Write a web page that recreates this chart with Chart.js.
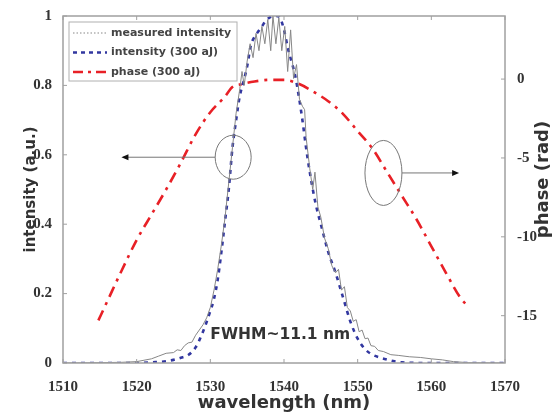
<!DOCTYPE html>
<html>
<head>
<meta charset="utf-8">
<script src="https://cdn.jsdelivr.net/npm/chart.js@4/dist/chart.umd.min.js"></script>
<style>
  html, body { margin: 0; padding: 0; background: #fff; }
  #wrap { width: 552px; height: 414px; }
</style>
</head>
<body>
<div id="wrap"><canvas id="chart" width="552" height="414"></canvas></div>
<script>
// axis ticks
const wavelengthTicks = [1510, 1520, 1530, 1540, 1550, 1560, 1570]
const intensityTicks = [0, 0.2, 0.4, 0.6, 0.8, 1]
const phaseTicks = [-15, -10, -5, 0]

// measured spectrum (gray, with ripple)
const measuredWl = [1510, 1515, 1518, 1520, 1522, 1523, 1524, 1525, 1525.5, 1526, 1526.5, 1527, 1527.5, 1528, 1528.5,
  1529, 1529.5, 1530, 1530.5, 1531, 1531.5, 1532, 1532.5, 1533, 1533.5, 1534, 1534.3, 1534.6, 1535, 1535.4, 1535.8,
  1536.2, 1536.6, 1537, 1537.4, 1537.8, 1538.2, 1538.5, 1538.9, 1539.3, 1539.7, 1540.1, 1540.5, 1540.9, 1541.3, 1541.7,
  1542.1, 1542.5, 1542.8, 1543, 1543.5, 1543.9, 1544.2, 1544.6, 1545, 1545.5, 1546, 1546.5, 1547, 1547.4, 1547.8,
  1548.2, 1548.6, 1549, 1549.4, 1549.8, 1550.2, 1550.6, 1551, 1551.4, 1551.8, 1552.3, 1552.8, 1553.5, 1554.5, 1555.5,
  1557, 1558.5, 1560, 1561.5, 1563, 1565, 1570]
const measuredIntensity = [0, 0.001, 0.002, 0.004, 0.012, 0.02, 0.028, 0.03, 0.038, 0.036, 0.05, 0.058, 0.06, 0.08, 0.095,
  0.11, 0.13, 0.16, 0.21, 0.27, 0.34, 0.42, 0.52, 0.62, 0.72, 0.79, 0.84, 0.8, 0.87, 0.92, 0.88,
  0.95, 0.9, 0.97, 0.92, 0.99, 0.9, 1, 0.92, 0.995, 0.9, 0.97, 0.84, 0.96, 0.82, 0.86,
  0.76, 0.74, 0.73, 0.65, 0.56, 0.5, 0.55, 0.45, 0.42, 0.36, 0.33, 0.28, 0.26, 0.27, 0.21,
  0.22, 0.16, 0.15, 0.12, 0.125, 0.09, 0.095, 0.07, 0.072, 0.05, 0.048, 0.036, 0.033, 0.024, 0.022,
  0.018, 0.016, 0.012, 0.009, 0.004, 0.001, 0]

// retrieved intensity, 300 aJ (blue dotted)
const fitWl = [1510, 1515, 1520, 1522, 1524, 1525, 1526, 1527, 1528, 1529, 1530, 1530.5, 1531, 1531.5, 1532, 1532.5,
  1533, 1533.5, 1534, 1534.5, 1535, 1535.5, 1536, 1536.5, 1537, 1537.5, 1538, 1538.5, 1539, 1539.5, 1540, 1540.5,
  1541, 1541.5, 1542, 1542.5, 1543, 1543.5, 1544, 1544.5, 1545, 1546, 1547, 1548, 1549, 1550, 1551, 1552, 1553,
  1554, 1555, 1556, 1560, 1565, 1570]
const fitIntensity = [0, 0, 0, 0.002, 0.005, 0.009, 0.015, 0.023, 0.045, 0.09, 0.15, 0.185, 0.24, 0.32, 0.41, 0.5,
  0.62, 0.7, 0.77, 0.81, 0.855, 0.915, 0.94, 0.955, 0.97, 0.985, 0.995, 1, 1, 0.993, 0.96, 0.91,
  0.87, 0.83, 0.77, 0.7, 0.62, 0.55, 0.49, 0.44, 0.4, 0.32, 0.26, 0.19, 0.12, 0.07, 0.04, 0.024, 0.016,
  0.01, 0.005, 0.002, 0, 0, 0]

// retrieved phase, 300 aJ (red dash-dot)
const phaseWl = [1514.8, 1516, 1518, 1520, 1522, 1524, 1526, 1528, 1530, 1532, 1533, 1534, 1536, 1538, 1540, 1542,
  1544, 1546, 1548, 1550, 1552, 1554, 1556, 1558, 1560, 1562, 1564, 1565]
const phaseRad = [-15.3, -14.1, -12.1, -10.2, -8.6, -7.0, -5.3, -3.5, -2.1, -1.1, -0.5, -0.35, -0.15, -0.05, -0.05, -0.3,
  -0.8, -1.4, -2.2, -3.3, -4.4, -5.9, -7.4, -8.9, -10.6, -12.3, -13.9, -14.4]

const toPoints = (xs, ys) => xs.map((x, i) => ({ x, y: ys[i] }))

const FRAME = '#a0a0a0'
const TICK_FONT = { family: "'Liberation Serif', 'Times New Roman', serif", size: 15, weight: 'bold' }
const SANS = "'DejaVu Sans', Verdana, sans-serif"

const fixTicks = list => scale => { scale.ticks = list.map(v => ({ value: v })) }

const decorPlugin = {
  id: 'decor',
  afterDatasetsDraw(chart) {
    const { ctx, chartArea: a, scales } = chart
    const x = scales.x, y = scales.y, y1 = scales.y1
    ctx.save()

    // frame
    ctx.strokeStyle = FRAME
    ctx.lineWidth = 1.5
    ctx.strokeRect(a.left, a.top, a.right - a.left, a.bottom - a.top)

    // inward ticks
    ctx.lineWidth = 1
    ctx.beginPath()
    wavelengthTicks.forEach(v => {
      const px = x.getPixelForValue(v)
      ctx.moveTo(px, a.bottom); ctx.lineTo(px, a.bottom - 4)
      ctx.moveTo(px, a.top); ctx.lineTo(px, a.top + 4)
    })
    intensityTicks.forEach(v => {
      const py = y.getPixelForValue(v)
      ctx.moveTo(a.left, py); ctx.lineTo(a.left + 4, py)
    })
    phaseTicks.forEach(v => {
      const py = y1.getPixelForValue(v)
      ctx.moveTo(a.right, py); ctx.lineTo(a.right - 4, py)
    })
    ctx.stroke()

    // ellipses + arrows
    ctx.strokeStyle = '#777'
    ctx.fillStyle = '#111'
    const note = (cx, cy, rx, ry, toX) => {
      ctx.beginPath()
      ctx.ellipse(cx, cy, rx, ry, 0, 0, Math.PI * 2)
      ctx.stroke()
      const dir = Math.sign(toX - cx)
      ctx.beginPath()
      ctx.moveTo(cx + dir * rx, cy); ctx.lineTo(toX, cy)
      ctx.stroke()
      ctx.beginPath()
      ctx.moveTo(toX + dir * 2, cy)
      ctx.lineTo(toX - dir * 5, cy - 3)
      ctx.lineTo(toX - dir * 5, cy + 3)
      ctx.closePath()
      ctx.fill()
    }
    note(x.getPixelForValue(1533.1), y.getPixelForValue(0.593), 18, 22, x.getPixelForValue(1518.2))
    note(x.getPixelForValue(1553.5), y1.getPixelForValue(-5.95), 18.5, 32.5, x.getPixelForValue(1563.5))

    // FWHM label
    ctx.fillStyle = '#333'
    ctx.font = `bold 15.5px ${SANS}`
    ctx.textAlign = 'left'
    ctx.textBaseline = 'middle'
    ctx.fillText('FWHM~11.1 nm', x.getPixelForValue(1530), y.getPixelForValue(0.08))

    // legend box
    const lx = a.left + 6, ly = a.top + 6
    ctx.fillStyle = '#fff'
    ctx.fillRect(lx, ly, 168, 59)
    ctx.strokeStyle = '#b0b0b0'
    ctx.lineWidth = 1
    ctx.strokeRect(lx, ly, 168, 59)
    const rows = [
      { ds: chart.data.datasets[0], dash: [1.5, 2], width: 1.2 },
      { ds: chart.data.datasets[1], dash: [4, 4], width: 2.5 },
      { ds: chart.data.datasets[2], dash: [10, 5, 3, 5], width: 2.5 }
    ]
    rows.forEach((r, i) => {
      const ry = ly + 11 + i * 19.5
      ctx.strokeStyle = r.ds.borderColor
      ctx.lineWidth = r.width
      ctx.setLineDash(r.dash)
      ctx.beginPath()
      ctx.moveTo(lx + 4, ry); ctx.lineTo(lx + 38, ry)
      ctx.stroke()
      ctx.setLineDash([])
      ctx.fillStyle = '#444'
      ctx.font = `bold 11px ${SANS}`
      ctx.fillText(r.ds.label, lx + 42, ry)
    })

    // right axis title, reads bottom to top
    ctx.save()
    ctx.translate(543, (a.top + a.bottom) / 2 - 10)
    ctx.rotate(-Math.PI / 2)
    ctx.textAlign = 'center'
    ctx.textBaseline = 'middle'
    ctx.fillStyle = '#333'
    ctx.font = `bold 18px ${SANS}`
    ctx.fillText('phase (rad)', 0, 0)
    ctx.restore()

    ctx.restore()
  }
}

new Chart(document.getElementById('chart'), {
  type: 'line',
  data: {
    datasets: [{
      label: 'measured intensity',
      data: toPoints(measuredWl, measuredIntensity),
      yAxisID: 'y',
      borderColor: 'rgb(135,135,135)',
      borderWidth: 1,
      pointRadius: 0,
      tension: 0
    }, {
      label: 'intensity (300 aJ)',
      data: toPoints(fitWl, fitIntensity),
      yAxisID: 'y',
      borderColor: 'rgb(50,55,160)',
      borderWidth: 2.6,
      borderDash: [4, 5],
      pointRadius: 0,
      cubicInterpolationMode: 'monotone'
    }, {
      label: 'phase (300 aJ)',
      data: toPoints(phaseWl, phaseRad),
      yAxisID: 'y1',
      borderColor: 'rgb(232,32,38)',
      borderWidth: 2.6,
      borderDash: [11, 6, 3, 6],
      pointRadius: 0,
      cubicInterpolationMode: 'monotone'
    }]
  },
  options: {
    responsive: false,
    animation: false,
    devicePixelRatio: 1,
    layout: { padding: { top: 16, left: 0, right: 0, bottom: 0 } },
    plugins: {
      legend: { display: false },
      tooltip: { enabled: false }
    },
    scales: {
      x: {
        type: 'linear',
        min: 1510,
        max: 1570,
        afterBuildTicks: fixTicks(wavelengthTicks),
        afterFit: s => { s.height = 51 },
        grid: { display: false },
        border: { display: false },
        ticks: { font: TICK_FONT, color: '#333', padding: 7, maxRotation: 0, callback: v => String(v) },
        title: {
          display: true,
          text: 'wavelength (nm)',
          color: '#333',
          font: { family: SANS, size: 18, weight: 'bold' },
          padding: { top: 0, bottom: 0 }
        }
      },
      y: {
        position: 'left',
        min: 0,
        max: 1,
        afterBuildTicks: fixTicks(intensityTicks),
        afterFit: s => { s.width = 63 },
        grid: { display: false },
        border: { display: false },
        ticks: { font: TICK_FONT, color: '#333', padding: 3, callback: v => String(v) },
        title: {
          display: true,
          text: 'intensity (a.u.)',
          color: '#333',
          font: { family: SANS, size: 15, weight: 'bold' },
          padding: { top: 22, bottom: 0 }
        }
      },
      y1: {
        position: 'right',
        min: -18,
        max: 4,
        afterBuildTicks: fixTicks(phaseTicks),
        afterFit: s => { s.width = 47 },
        grid: { display: false },
        border: { display: false },
        ticks: { font: TICK_FONT, color: '#333', padding: 4, callback: v => String(v) }
      }
    }
  },
  plugins: [decorPlugin]
})
</script>
</body>
</html>
